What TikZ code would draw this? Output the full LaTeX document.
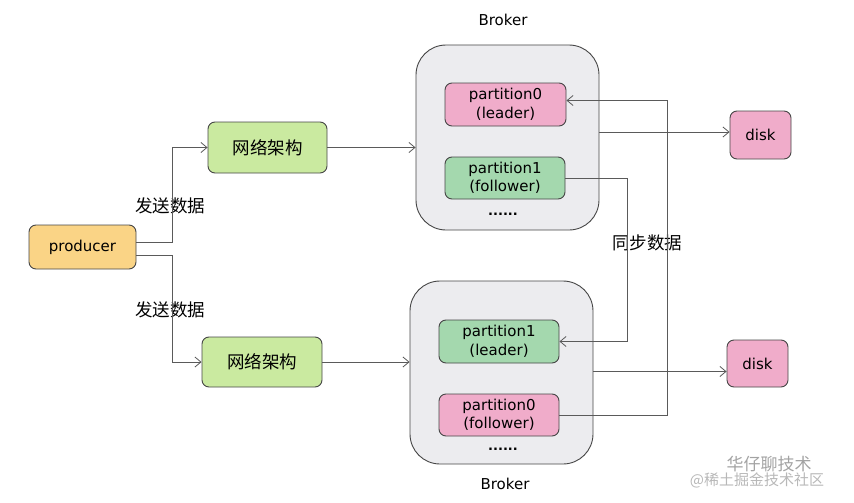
\documentclass[tikz,border=0pt]{standalone}
\usepackage{fontspec}
\setmainfont{DejaVu Sans}
\newfontfamily\cjk{Noto Sans CJK SC}
\usetikzlibrary{arrows.meta}
\definecolor{pinkfill}{RGB}{240,172,202}
\definecolor{greenfill}{RGB}{164,216,174}
\definecolor{netfill}{RGB}{202,234,160}
\definecolor{prodfill}{RGB}{250,212,134}
\definecolor{brokerfill}{RGB}{236,236,239}
\definecolor{edge}{RGB}{70,70,70}
\definecolor{lineclr}{RGB}{90,90,90}
\tikzset{
  boxbase/.style={draw=edge, line width=0.9pt, rounded corners=7pt, inner sep=0pt, align=center},
  brokerbox/.style={boxbase, fill=brokerfill, rounded corners=30pt},
  pinkbox/.style={boxbase, fill=pinkfill, font=\fontsize{15}{18.5}\selectfont},
  greenbox/.style={boxbase, fill=greenfill, font=\fontsize{15}{18.5}\selectfont},
  netbox/.style={boxbase, fill=netfill, font=\cjk\fontsize{17.5}{19}\selectfont},
  prodbox/.style={boxbase, fill=prodfill, font=\fontsize{15}{18}\selectfont},
  cjklabel/.style={font=\cjk\fontsize{17.5}{19}\selectfont, text=black, inner sep=1pt},
  titlelabel/.style={font=\fontsize{15}{17}\selectfont},
  dotlabel/.style={font=\bfseries\fontsize{13}{13}\selectfont},
  conn/.style={draw=lineclr, line width=0.8pt, -{Straight Barb[length=6pt,width=10pt]}}
}
\begin{document}
\begin{tikzpicture}[x=1pt,y=-1pt]
\useasboundingbox (0,0) rectangle (854,503);
% brokers
\node[brokerbox, minimum width=183pt, minimum height=185pt] (b1) at (507.5,137.5) {};
\node[brokerbox, minimum width=183pt, minimum height=183pt] (b2) at (501.5,372.5) {};
\node[titlelabel] (t1) at (503,20) {Broker};
\node[titlelabel] (t2) at (505,484) {Broker};
% partitions
\node[pinkbox, minimum width=121pt, minimum height=43pt] (p0l) at (505.5,104.5) {partition0\\(leader)};
\node[greenbox, minimum width=120pt, minimum height=42pt] (p1f) at (505,178) {partition1\\(follower)};
\node[dotlabel] (dots1) at (503,214) {......};
\node[greenbox, minimum width=120pt, minimum height=43pt] (p1l) at (499,341.5) {partition1\\(leader)};
\node[pinkbox, minimum width=120pt, minimum height=42pt] (p0f) at (499,415) {partition0\\(follower)};
\node[dotlabel] (dots2) at (503,449) {......};
% producer and network
\node[prodbox, minimum width=107pt, minimum height=44pt] (prod) at (82.5,247) {producer};
\node[netbox, minimum width=119pt, minimum height=51pt] (net1) at (267.5,147.5) {网络架构};
\node[netbox, minimum width=120pt, minimum height=50pt] (net2) at (262,362) {网络架构};
% disks
\node[pinkbox, minimum width=61pt, minimum height=48pt] (d1) at (760.5,135) {disk};
\node[pinkbox, minimum width=61pt, minimum height=47pt] (d2) at (757.5,363.5) {disk};
% labels
\node[cjklabel] (send1) at (170,206) {发送数据};
\node[cjklabel] (send2) at (170,310) {发送数据};
\node[cjklabel] (sync) at (647,243) {同步数据};
% connectors
\draw[conn] ([yshift=5pt]prod.east) -- ++(36,0) |- (net1.west);
\draw[conn] ([yshift=-8pt]prod.east) -- ++(36,0) |- (net2.west);
\draw[conn] (net1.east) -- (net1.east -| b1.west);
\draw[conn] (net2.east) -- (net2.east -| b2.west);
\coordinate (d1in) at ([yshift=3pt]d1.west);
\coordinate (d2in) at ([yshift=-8pt]d2.west);
\draw[conn] (d1in -| b1.east) -- (d1in);
\draw[conn] (d2in -| b2.east) -- (d2in);
\draw[conn] (p1f.east) -- ++(62,0) |- (p1l.east);
\coordinate (p0in) at ([yshift=4pt]p0l.east);
\draw[conn] (p0f.east) -- ++(108,0) |- (p0in);
% watermark
\node[font=\cjk\fontsize{17}{17}\selectfont, text=black!45, opacity=0.8] (wm1) at (769,464) {华仔聊技术};
\node[font=\cjk\fontsize{15}{15}\selectfont, text=black!35, opacity=0.8] (wm2) at (757,480) {@稀土掘金技术社区};
\end{tikzpicture}
\end{document}
